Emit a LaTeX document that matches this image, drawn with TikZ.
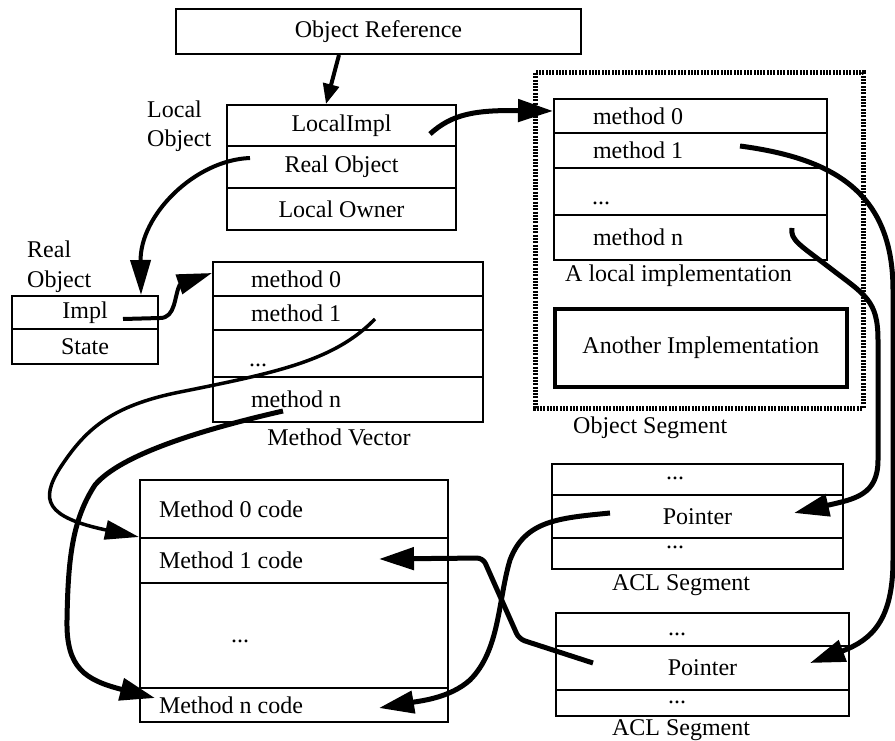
\documentclass[tikz,border=0pt]{standalone}
\usepackage{fontspec}
\setmainfont{Liberation Serif}
\usetikzlibrary{arrows.meta,calc}
\begin{document}
\begin{tikzpicture}[x=1pt,y=-1pt,
  font=\fontsize{24}{28}\selectfont,
  box/.style={draw, line width=2pt, rectangle, inner sep=0pt, anchor=north west},
  lbl/.style={inner sep=0pt},
  dots/.style={inner sep=0pt},
  arr/.style={line width=5pt, line join=round, -{Triangle[length=35pt,width=22pt]}},
  arrthin/.style={line width=3.5pt, line join=round, -{Triangle[length=34pt,width=19pt]}},
  arrmid/.style={line width=4pt, line join=round, -{Triangle[length=35pt,width=20pt]}},
  arrshort/.style={line width=4pt, -{Triangle[length=20pt,width=16pt]}}
]
\useasboundingbox (0,0) rectangle (895,741);

% Object reference
\node[box, minimum width=405pt, minimum height=45pt] (objref) at (175,8) {Object Reference};

% Local object
\node[lbl, anchor=base west] (lolabel1) at (147,118) {Local};
\node[lbl, anchor=base west] (lolabel2) at (147,147) {Object};
\node[box, minimum width=229pt, minimum height=41pt] (lo1) at (226,104) {LocalImpl};
\node[box, minimum width=229pt, minimum height=42pt] (lo2) at (226,145) {Real Object};
\node[box, minimum width=229pt, minimum height=42pt] (lo3) at (226,187) {Local Owner};

% Object segment (hatched border)
\draw[line width=5pt, dash pattern=on 2pt off 1.3pt] (535,73) rectangle (863,408);
\node[lbl, anchor=base west] (oslabel) at (573,433) {Object Segment};

% Local implementation
\node[box, minimum width=273pt, minimum height=34pt, inner xsep=39pt] (li0) at (553,98) {\makebox[195pt][l]{method 0}};
\node[box, minimum width=273pt, minimum height=35pt, inner xsep=39pt] (li1) at (553,132) {\makebox[195pt][l]{method 1}};
\node[box, minimum width=273pt, minimum height=47pt] (lid) at (553,167) {};
\node[dots, anchor=west] (lidots) at (592,203) {...};
\node[box, minimum width=273pt, minimum height=45pt, inner xsep=39pt] (lin) at (553,214) {\makebox[195pt][l]{method n}};
\node[lbl, anchor=base west] (lilabel) at (565,281) {A local implementation};
\node[box, line width=3.5pt, minimum width=292pt, minimum height=78pt] (another) at (553,307) {Another Implementation};

% Real object
\node[lbl, anchor=base west] (rolabel1) at (27,258) {Real};
\node[lbl, anchor=base west] (rolabel2) at (27,287) {Object};
\node[box, minimum width=146pt, minimum height=33pt] (ro1) at (11,295) {Impl};
\node[box, minimum width=146pt, minimum height=35pt] (ro2) at (11,328) {State};

% Method vector
\node[box, minimum width=270pt, minimum height=34pt, inner xsep=38pt] (mv0) at (212,261) {\makebox[194pt][l]{method 0}};
\node[box, minimum width=270pt, minimum height=34pt, inner xsep=38pt] (mv1) at (212,295) {\makebox[194pt][l]{method 1}};
\node[box, minimum width=270pt, minimum height=47pt] (mvd) at (212,329) {};
\node[dots, anchor=west] (mvdots) at (249,365) {...};
\node[box, minimum width=270pt, minimum height=45pt, inner xsep=38pt] (mvn) at (212,376) {\makebox[194pt][l]{method n}};
\node[lbl, anchor=base] (mvlabel) at (339,445) {Method Vector};

% Method code
\node[box, minimum width=308pt, minimum height=58pt, inner xsep=19pt] (mc0) at (139,479) {\makebox[270pt][l]{Method 0 code}};
\node[box, minimum width=308pt, minimum height=45pt, inner xsep=19pt] (mc1) at (139,537) {\makebox[270pt][l]{Method 1 code}};
\node[box, minimum width=308pt, minimum height=105pt] (mcd) at (139,582) {};
\node[dots] (mcdots) at (240,641) {...};
\node[box, minimum width=308pt, minimum height=34pt, inner xsep=19pt] (mcn) at (139,687) {\makebox[270pt][l]{Method n code}};

% ACL segment 1
\node[box, minimum width=291pt, minimum height=31pt] (acl1a) at (551,463) {};
\node[dots] (acl1adots) at (675,478) {...};
\node[box, minimum width=291pt, minimum height=43pt] (acl1p) at (551,494) {Pointer};
\node[box, minimum width=291pt, minimum height=31pt] (acl1b) at (551,537) {};
\node[dots] (acl1bdots) at (675,547) {...};
\node[lbl, anchor=base] (acl1label) at (681,590) {ACL Segment};

% ACL segment 2
\node[box, minimum width=293pt, minimum height=33pt] (acl2a) at (555,612) {};
\node[dots] (acl2adots) at (677,634) {...};
\node[box, minimum width=293pt, minimum height=44pt] (acl2p) at (555,645) {Pointer};
\node[box, minimum width=293pt, minimum height=26pt] (acl2b) at (555,689) {};
\node[dots] (acl2bdots) at (677,702) {...};
\node[lbl, anchor=base] (acl2label) at (681,735) {ACL Segment};

% Connectors
\draw[arrshort] ($(objref.south)+(-39.5,0)$) -- ($(lo1.north)+(-15.5,0)$);

\draw[arr] ($(lo1.east)+(-27,8.5)$) .. controls (452,114) and (475,110) .. ($(li0.west)+(0,-5)$);

\draw[arrmid] ($(lo2.west)+(24,-9)$) .. controls (195,160) and (140,215) .. ($(ro1.north)+(56,0)$);

\draw[arrmid] ($(ro1.east)+(-36,6.5)$) -- (160,318) .. controls (176,318) and (174,296) .. (180,284) -- ($(mv0.west)+(0,-6)$);

\draw[arrthin] ($(mv1.east)+(-109,6)$) .. controls (335,360) and (280,372) .. (180,392)
  .. controls (110,406) and (85,430) .. (60,468)
  .. controls (40,500) and (45,517) .. (mc1.north west);

\draw[arr] ($(mvn.west)+(71,11.5)$) .. controls (200,430) and (120,455) .. (95,485)
  .. controls (72,520) and (68,560) .. (67,620)
  .. controls (66,668) and (85,680) .. ($(mcn.west)+(16,-7)$);

\draw[arr] ($(li1.east)+(-88,-4.5)$) .. controls (830,158) and (893,190) .. (893,290)
  -- (893,560) .. controls (893,620) and (872,640) .. ($(acl2p.east)+(-40,-5)$);

\draw[arr] ($(lin.east)+(-36,-9.5)$) .. controls (790,240) and (800,245) .. (830,268)
  .. controls (865,295) and (878,300) .. (878,340)
  -- (878,460) .. controls (878,495) and (855,499) .. ($(acl1p.east)+(-50,-3.5)$);

\draw[arr] ($(acl1p.west)+(59,-3.5)$) .. controls (560,518) and (525,520) .. (510,560)
  .. controls (498,600) and (500,650) .. (470,680)
  .. controls (450,698) and (420,701) .. ($(mcn.east)+(-70,3)$);

\draw[arr, rounded corners=6pt] ($(acl2p.west)+(38,-5)$) -- (519,639) -- (483,558) -- ($(mc1.east)+(-70,-1.5)$);
\end{tikzpicture}
\end{document}
